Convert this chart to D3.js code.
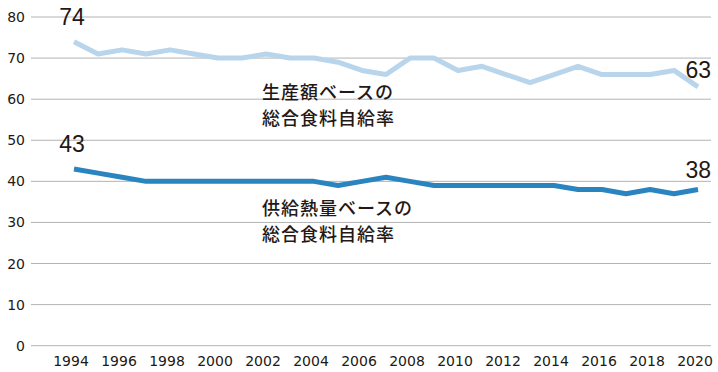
<!DOCTYPE html>
<html><head><meta charset="utf-8">
<script src="https://cdn.jsdelivr.net/npm/d3@7"></script>
<style>
body{margin:0;background:#fff;}
text{font-family:"Liberation Sans",Arial,sans-serif;fill:#231815;}
</style></head>
<body><svg id="c" width="718" height="372"></svg>
<script>
const years = d3.range(1994, 2021);
const productionBased = [74,71,72,71,72,71,70,70,71,70,70,69,67,66,70,70,67,68,66,64,66,68,66,66,66,67,63];
const calorieBased    = [43,42,41,40,40,40,40,40,40,40,40,39,40,41,40,39,39,39,39,39,39,38,38,37,38,37,38];
const yTicks = [0,10,20,30,40,50,60,70,80];
const xTicks = d3.range(1994, 2021, 2);
const labelProduction = ["生産額ベースの","総合食料自給率"];
const labelCalorie = ["供給熱量ベースの","総合食料自給率"];

const svg = d3.select("#c");
const x = d3.scaleLinear().domain([1994, 2020]).range([74, 698]);
const y = d3.scaleLinear().domain([0, 80]).range([345.7, 17]);

// grid
svg.append("g").selectAll("line").data(yTicks).join("line")
  .attr("x1", 31).attr("x2", 711)
  .attr("y1", d => y(d)).attr("y2", d => y(d))
  .attr("stroke", "#b3b3b3").attr("stroke-width", 1);

// y labels
svg.append("g").selectAll("text").data(yTicks).join("text")
  .attr("x", 25).attr("y", d => y(d) + 5)
  .attr("text-anchor", "end").attr("font-size", 14)
  .style("font-family", "'DejaVu Sans',sans-serif")
  .text(d => d);

// x labels
svg.append("g").selectAll("text").data(xTicks).join("text")
  .attr("x", d => x(d) - 3).attr("y", 366)
  .attr("text-anchor", "middle").attr("font-size", 14)
  .style("font-family", "'DejaVu Sans',sans-serif")
  .text(d => d);

const line = d3.line().x((d, i) => x(years[i])).y(d => y(d));
svg.append("path").datum(productionBased).attr("d", line)
  .attr("fill", "none").attr("stroke", "#b9d5ec").attr("stroke-width", 5).attr("stroke-linejoin", "round");
svg.append("path").datum(calorieBased).attr("d", line)
  .attr("fill", "none").attr("stroke", "#2a84bf").attr("stroke-width", 5).attr("stroke-linejoin", "round");

// end labels
const endLbl = (txt, xx, yy, anchor) => svg.append("text").attr("x", xx).attr("y", yy)
  .attr("text-anchor", anchor).attr("font-size", 23).text(txt);
endLbl(productionBased[0], x(1994) - 2, y(productionBased[0]) - 17, "middle");
endLbl(calorieBased[0], x(1994) - 2, y(calorieBased[0]) - 17, "middle");
endLbl(productionBased[productionBased.length-1], 711, y(productionBased[productionBased.length-1]) - 9, "end");
endLbl(calorieBased[calorieBased.length-1], 711, y(calorieBased[calorieBased.length-1]) - 12, "end");

// annotations
const ann = (lines, yy) => {
  const t = svg.append("text").attr("x", 262).attr("y", yy)
    .attr("font-size", 18).attr("letter-spacing", 1).attr("font-weight", 500)
    .style("font-family", "'Noto Sans CJK JP',sans-serif");
  t.selectAll("tspan").data(lines).join("tspan")
    .attr("x", 262).attr("dy", (d, i) => i ? 26 : 0).text(d => d);
};
ann(labelProduction, 99);
ann(labelCalorie, 215);
</script></body></html>
